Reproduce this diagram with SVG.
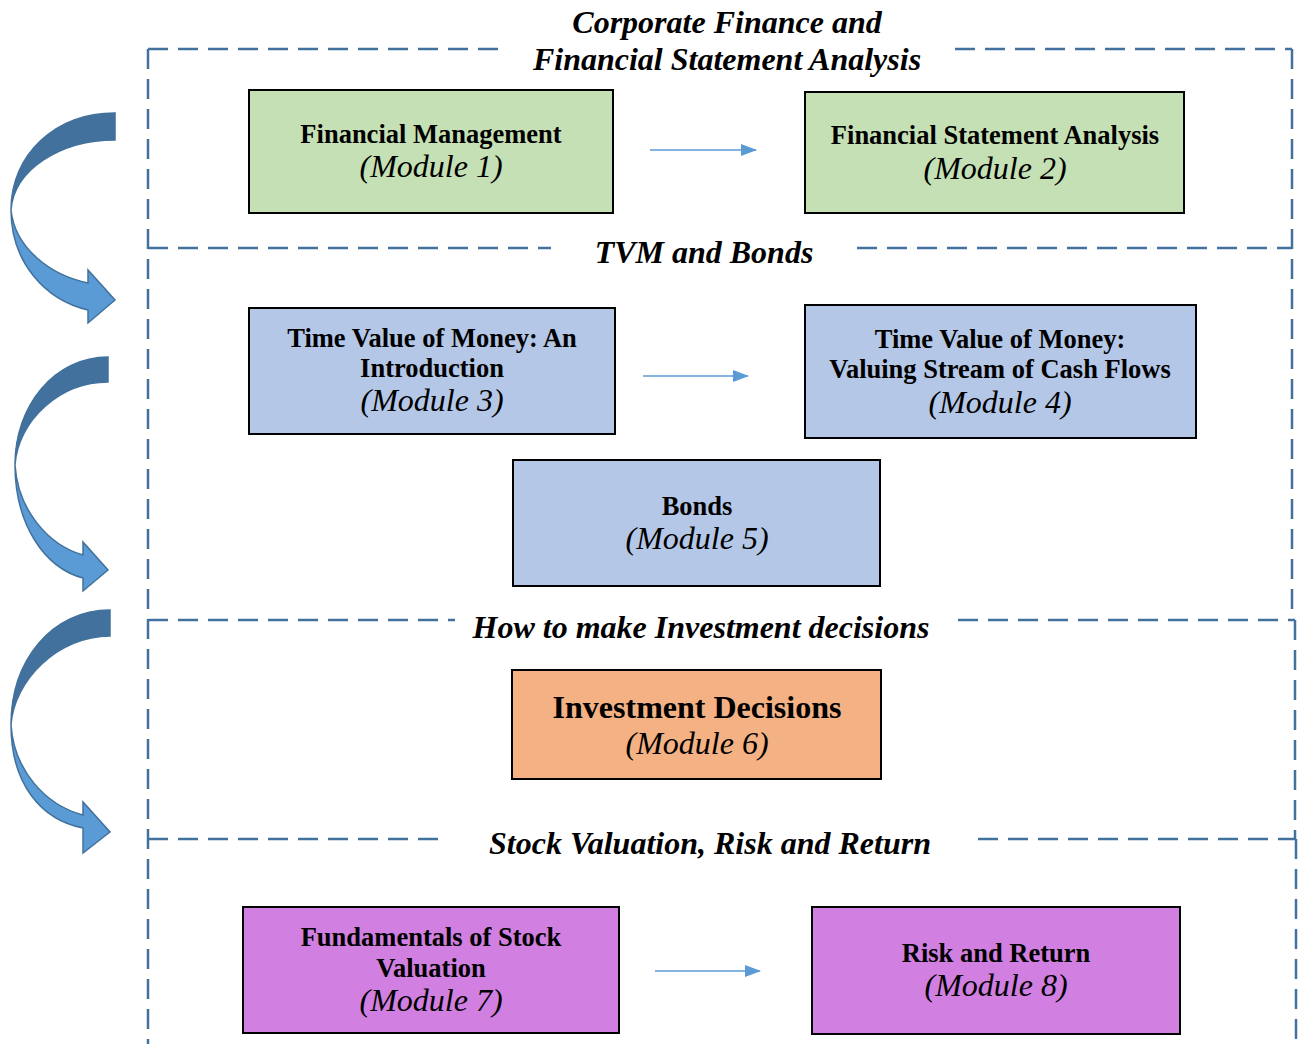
<svg xmlns="http://www.w3.org/2000/svg" width="1300" height="1044" viewBox="0 0 1300 1044">
<defs>
<style>
.frame{fill:none;stroke:#41719C;stroke-width:2.5;stroke-dasharray:20 10}
.box{stroke:#000;stroke-width:2}
.t{font-family:"Liberation Serif","Times New Roman",serif;font-weight:bold;font-size:26.5px;text-anchor:middle;fill:#000}
.m{font-family:"Liberation Serif","Times New Roman",serif;font-style:italic;font-size:32px;text-anchor:middle;fill:#000}
.h{font-family:"Liberation Serif","Times New Roman",serif;font-style:italic;font-weight:bold;font-size:32px;text-anchor:middle;fill:#000}
.dark{fill:#41719C;stroke:#41719C;stroke-width:1.5}
.light{fill:#5B9BD5;stroke:#41719C;stroke-width:1.5}
.conn{stroke:#5B9BD5;stroke-width:1.5;fill:none}
</style>
<marker id="ah" markerWidth="16" markerHeight="12" refX="15" refY="6" orient="auto" markerUnits="userSpaceOnUse">
<path d="M0,0 L16,6 L0,12 Z" fill="#5B9BD5"/>
</marker>
</defs>
<rect width="1300" height="1044" fill="#fff"/>

<g id="frames">
<line class="frame" x1="148" y1="49" x2="502" y2="49"/>
<line class="frame" x1="955" y1="49" x2="1292" y2="49"/>
<line class="frame" x1="148" y1="49" x2="148" y2="1044"/>
<line class="frame" x1="1292" y1="49" x2="1292" y2="620"/>
<line class="frame" x1="148" y1="248" x2="551" y2="248"/>
<line class="frame" x1="857" y1="248" x2="1292" y2="248"/>
<line class="frame" x1="148" y1="620" x2="455" y2="620"/>
<line class="frame" x1="958" y1="620" x2="1295" y2="620"/>
<line class="frame" x1="1295" y1="620" x2="1295" y2="839"/>
<line class="frame" x1="148" y1="839" x2="443" y2="839"/>
<line class="frame" x1="978" y1="839" x2="1296" y2="839"/>
<line class="frame" x1="1296" y1="839" x2="1296" y2="1044"/>
</g>

<g id="headings">
<text class="h" x="727" y="33">Corporate Finance and</text>
<text class="h" x="727" y="70">Financial Statement Analysis</text>
<text class="h" x="704" y="263">TVM and Bonds</text>
<text class="h" x="701" y="638">How to make Investment decisions</text>
<text class="h" x="710" y="854">Stock Valuation, Risk and Return</text>
</g>

<g id="curved-arrow-1">
<path class="dark" d="M115,113 C55,113 11,155 11,210 C14,170 60,140 115,140 Z"/>
<path class="light" d="M11,210 C11,262 45,300 88,310 L88,323 L115,300 L88,270 L88,283 C50,275 15,248 11,210 Z"/>
</g>
<g id="curved-arrow-2">
<path class="dark" d="M108,357 C55,357 15,405 15,465 C18,420 60,382 108,382 Z"/>
<path class="light" d="M15,465 C15,525 45,568 83,578 L83,591 L108,570 L83,542 L83,555 C48,545 18,510 15,465 Z"/>
</g>
<g id="curved-arrow-3">
<path class="dark" d="M110,610 C52,610 11,660 11,725 C14,680 58,636 110,636 Z"/>
<path class="light" d="M11,725 C11,785 42,820 83,828 L83,853 L110,832 L83,802 L83,815 C45,805 14,770 11,725 Z"/>
</g>

<g id="node-m1">
<rect class="box" x="249" y="90" width="364" height="123" fill="#C5E0B4"/>
<text class="t" x="431" y="143">Financial Management</text>
<text class="m" x="431" y="177">(Module 1)</text>
</g>
<g id="node-m2">
<rect class="box" x="805" y="92" width="379" height="121" fill="#C5E0B4"/>
<text class="t" x="995" y="144">Financial Statement Analysis</text>
<text class="m" x="995" y="179">(Module 2)</text>
</g>
<g id="node-m3">
<rect class="box" x="249" y="308" width="366" height="126" fill="#B4C7E7"/>
<text class="t" x="432" y="347">Time Value of Money: An</text>
<text class="t" x="432" y="377">Introduction</text>
<text class="m" x="432" y="411">(Module 3)</text>
</g>
<g id="node-m4">
<rect class="box" x="805" y="305" width="391" height="133" fill="#B4C7E7"/>
<text class="t" x="1000" y="348">Time Value of Money:</text>
<text class="t" x="1000" y="378">Valuing Stream of Cash Flows</text>
<text class="m" x="1000" y="413">(Module 4)</text>
</g>
<g id="node-m5">
<rect class="box" x="513" y="460" width="367" height="126" fill="#B4C7E7"/>
<text class="t" x="697" y="515">Bonds</text>
<text class="m" x="697" y="549">(Module 5)</text>
</g>
<g id="node-m6">
<rect class="box" x="512" y="670" width="369" height="109" fill="#F4B183"/>
<text class="t" x="697" y="718" style="font-size:32px">Investment Decisions</text>
<text class="m" x="697" y="754">(Module 6)</text>
</g>
<g id="node-m7">
<rect class="box" x="243" y="907" width="376" height="126" fill="#D17FE0"/>
<text class="t" x="431" y="946">Fundamentals of Stock</text>
<text class="t" x="431" y="977">Valuation</text>
<text class="m" x="431" y="1011">(Module 7)</text>
</g>
<g id="node-m8">
<rect class="box" x="812" y="907" width="368" height="127" fill="#D17FE0"/>
<text class="t" x="996" y="962">Risk and Return</text>
<text class="m" x="996" y="996">(Module 8)</text>
</g>

<g id="connectors">
<line class="conn" x1="650" y1="150" x2="756" y2="150" marker-end="url(#ah)"/>
<line class="conn" x1="643" y1="376" x2="748" y2="376" marker-end="url(#ah)"/>
<line class="conn" x1="655" y1="971" x2="760" y2="971" marker-end="url(#ah)"/>
</g>
</svg>
